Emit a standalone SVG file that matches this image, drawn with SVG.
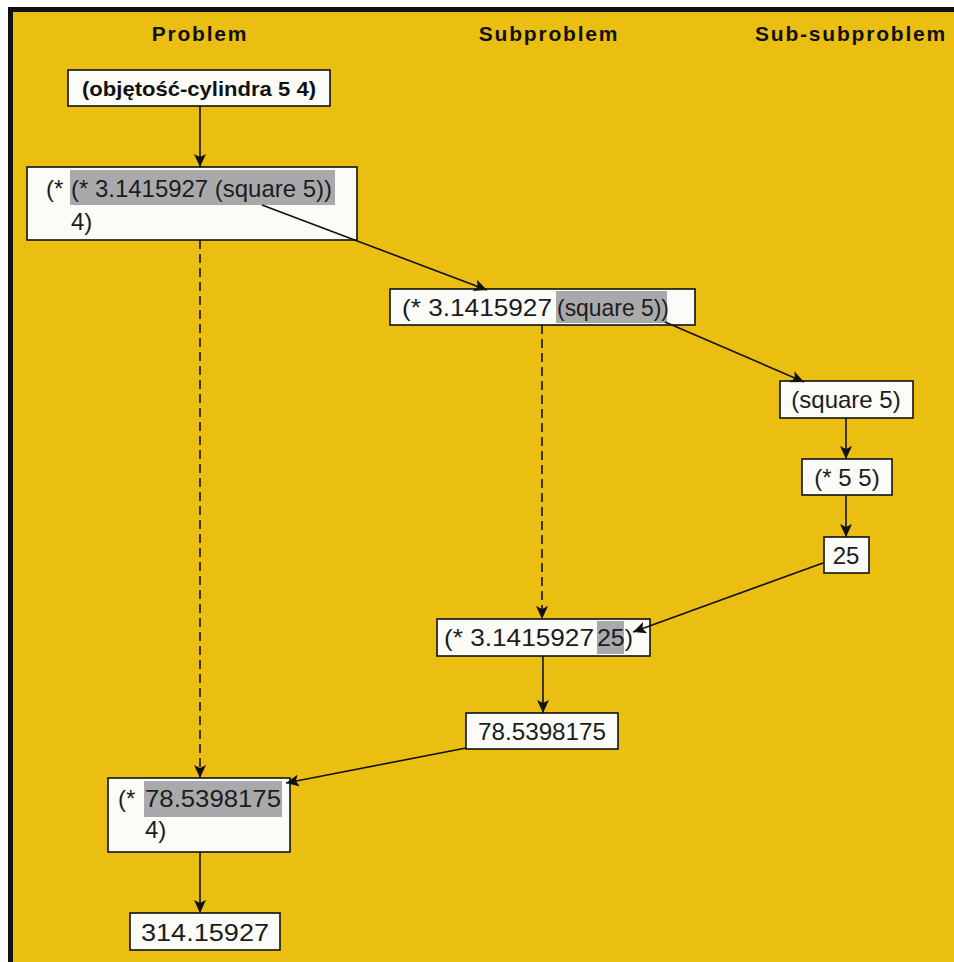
<svg xmlns="http://www.w3.org/2000/svg" width="954" height="962" viewBox="0 0 954 962">
<defs>
<style>
.hdr{font-family:"Liberation Sans",Arial,sans-serif;font-weight:bold;font-size:21px;letter-spacing:1.8px;fill:#111;text-anchor:middle}
.box{fill:#fbfbf7;stroke:#111;stroke-width:1.6}
.hl{fill:#a9a9ab}
.t{font-family:"Liberation Sans",Arial,sans-serif;font-size:24px;fill:#1c1c1c}
.tb{font-family:"Liberation Sans",Arial,sans-serif;font-weight:bold;font-size:21px;fill:#111}
.c{stroke:#111;stroke-width:1.6;fill:none}
.d{stroke-dasharray:9 5}
</style>
<marker id="ah" markerUnits="userSpaceOnUse" markerWidth="14" markerHeight="12" refX="13" refY="6" orient="auto">
<path d="M0,0 L13,6 L0,12 L3,6 Z" fill="#111"/>
</marker>
</defs>
<rect x="0" y="0" width="954" height="962" fill="#ffffff"/>
<rect x="8" y="7" width="946" height="955" fill="#111"/>
<rect x="13" y="12" width="941" height="950" fill="#ebbe12"/>
<g id="headers">
<text class="hdr" x="200" y="41">Problem</text>
<text class="hdr" x="549" y="41">Subproblem</text>
<text class="hdr" x="851" y="41">Sub-subproblem</text>
</g>
<g id="n1">
<rect class="box" x="68" y="70" width="262" height="36"/>
<text class="tb" x="82" y="96" textLength="234" lengthAdjust="spacingAndGlyphs">(objętość-cylindra 5 4)</text>
</g>
<g id="n2">
<rect class="box" x="27" y="167" width="330" height="73"/>
<rect class="hl" x="70" y="170" width="265" height="35"/>
<text class="t" x="46" y="197">(* </text>
<text class="t" x="71" y="197" textLength="261" lengthAdjust="spacingAndGlyphs">(* 3.1415927 (square 5))</text>
<text class="t" x="71" y="230">4)</text>
</g>
<g id="n3">
<rect class="box" x="390" y="289" width="305" height="36"/>
<rect class="hl" x="556" y="291" width="111" height="32"/>
<text class="t" x="402" y="316" textLength="150" lengthAdjust="spacingAndGlyphs">(* 3.1415927</text>
<text class="t" x="557" y="316" textLength="112" lengthAdjust="spacingAndGlyphs">(square 5))</text>
</g>
<g id="n4">
<rect class="box" x="780" y="381" width="133" height="37"/>
<text class="t" x="846" y="408" text-anchor="middle">(square 5)</text>
</g>
<g id="n5">
<rect class="box" x="802" y="459" width="90" height="36"/>
<text class="t" x="847" y="486" text-anchor="middle">(* 5 5)</text>
</g>
<g id="n6">
<rect class="box" x="824" y="537" width="45" height="36"/>
<text class="t" x="846" y="564" text-anchor="middle">25</text>
</g>
<g id="n7">
<rect class="box" x="437" y="619" width="213" height="37"/>
<rect class="hl" x="597" y="621" width="27" height="33"/>
<text class="t" x="444" y="646" textLength="150" lengthAdjust="spacingAndGlyphs">(* 3.1415927</text>
<text class="t" x="597" y="646" textLength="36" lengthAdjust="spacingAndGlyphs">25)</text>
</g>
<g id="n8">
<rect class="box" x="466" y="713" width="152" height="36"/>
<text class="t" x="542" y="740" text-anchor="middle" textLength="128" lengthAdjust="spacingAndGlyphs">78.5398175</text>
</g>
<g id="n9">
<rect class="box" x="108" y="778" width="182" height="74"/>
<rect class="hl" x="144" y="781" width="138" height="36"/>
<text class="t" x="118" y="807">(*</text>
<text class="t" x="145" y="807" textLength="136" lengthAdjust="spacingAndGlyphs">78.5398175</text>
<text class="t" x="145" y="838">4)</text>
</g>
<g id="n10">
<rect class="box" x="130" y="913" width="150" height="37"/>
<text class="t" x="205" y="941" text-anchor="middle" textLength="128" lengthAdjust="spacingAndGlyphs">314.15927</text>
</g>
<g id="connectors">
<line class="c" x1="200" y1="106" x2="200" y2="167" marker-end="url(#ah)"/>
<line class="c" x1="262" y1="205" x2="487" y2="290" marker-end="url(#ah)"/>
<line class="c d" x1="200" y1="240" x2="200" y2="778" marker-end="url(#ah)"/>
<line class="c d" x1="542" y1="325" x2="542" y2="619" marker-end="url(#ah)"/>
<line class="c" x1="665" y1="322" x2="804" y2="382" marker-end="url(#ah)"/>
<line class="c" x1="846" y1="418" x2="846" y2="459" marker-end="url(#ah)"/>
<line class="c" x1="846" y1="495" x2="846" y2="537" marker-end="url(#ah)"/>
<line class="c" x1="823" y1="563" x2="633" y2="632" marker-end="url(#ah)"/>
<line class="c" x1="543" y1="656" x2="543" y2="713" marker-end="url(#ah)"/>
<line class="c" x1="466" y1="748" x2="286" y2="783" marker-end="url(#ah)"/>
<line class="c" x1="200" y1="852" x2="200" y2="913" marker-end="url(#ah)"/>
</g>
</svg>
